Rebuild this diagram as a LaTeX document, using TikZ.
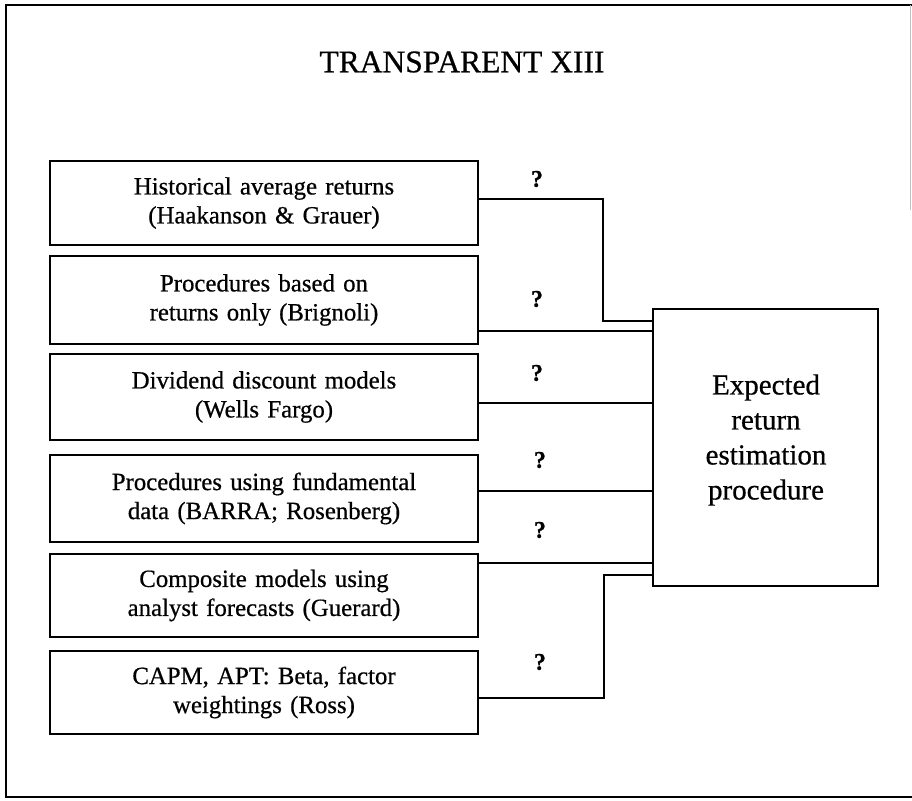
\documentclass[tikz,border=0pt]{standalone}
\usepackage{fontspec}
\setmainfont{Liberation Serif}[FakeBold=0.6]
\begin{document}
\begin{tikzpicture}[x=1pt,y=-1pt,
  line join=miter,
  srcbox/.style={draw,line width=1.9pt,minimum width=428pt,inner sep=0pt,
    text width=420pt,align=center,font=\fontsize{24.8}{29}\selectfont},
  target/.style={draw,line width=1.9pt,minimum width=225pt,minimum height=277pt,
    inner sep=0pt},
  link/.style={line width=1.9pt},
  qmark/.style={font=\fontsize{24}{28}\selectfont\bfseries,inner sep=0pt}]

\useasboundingbox (0,0) rectangle (912,800);

% page frame
\draw[line width=1.6pt] (912,5) -- (6,5) -- (6,797) -- (912,797);
\draw[line width=0.6pt,black!25] (910,5) -- (910,210);

\node[font=\fontsize{31.5}{36}\selectfont] (title) at (462,62) {TRANSPARENT XIII};

% approaches to estimating expected returns
\node[srcbox,minimum height=84pt] (b1) at (264,203)
  {Historical average returns\\(Haakanson \& Grauer)};
\node[srcbox,minimum height=88pt] (b2) at (264,300)
  {Procedures based on\\returns only (Brignoli)};
\node[srcbox,minimum height=86pt] (b3) at (264,397)
  {Dividend discount models\\(Wells Fargo)};
\node[srcbox,minimum height=87pt] (b4) at (264,498.5)
  {Procedures using fundamental\\data (BARRA; Rosenberg)};
\node[srcbox,minimum height=83pt] (b5) at (264,595.5)
  {Composite models using\\analyst forecasts (Guerard)};
\node[srcbox,minimum height=83pt] (b6) at (264,692.5)
  {CAPM, APT: Beta, factor\\weightings (Ross)};

% the procedure they all feed
\node[target] (e) at (765.5,447.5) {};
\node[align=center,font=\fontsize{29}{35}\selectfont,inner sep=0pt] (elabel) at (766,440)
  {Expected\\return\\estimation\\procedure};

% connector end points on the box sides
\coordinate (s1) at ([yshift=4pt]b1.east);
\coordinate (s2) at ([yshift=-31pt]b2.east);
\coordinate (s3) at ([yshift=-6pt]b3.east);
\coordinate (s4) at ([yshift=7.5pt]b4.east);
\coordinate (s5) at ([yshift=32.5pt]b5.east);
\coordinate (s6) at ([yshift=-5.5pt]b6.east);
\coordinate (t1) at ([yshift=126.5pt]e.west);
\coordinate (t6) at ([yshift=-127.5pt]e.west);

\draw[link] (s1) -- ++(124,0) |- (t1);
\draw[link] (s2) -- (s2 -| e.west);
\draw[link] (s3) -- (s3 -| e.west);
\draw[link] (s4) -- (s4 -| e.west);
\draw[link] (s5) -- (s5 -| e.west);
\draw[link] (s6) -- ++(125,0) |- (t6);

% question marks over the links
\node[qmark] (q1) at (537,179) {?};
\node[qmark] (q2) at (537,299) {?};
\node[qmark] (q3) at (537,373) {?};
\node[qmark] (q4) at (540,460) {?};
\node[qmark] (q5) at (540,530) {?};
\node[qmark] (q6) at (540,662) {?};
\end{tikzpicture}
\end{document}
